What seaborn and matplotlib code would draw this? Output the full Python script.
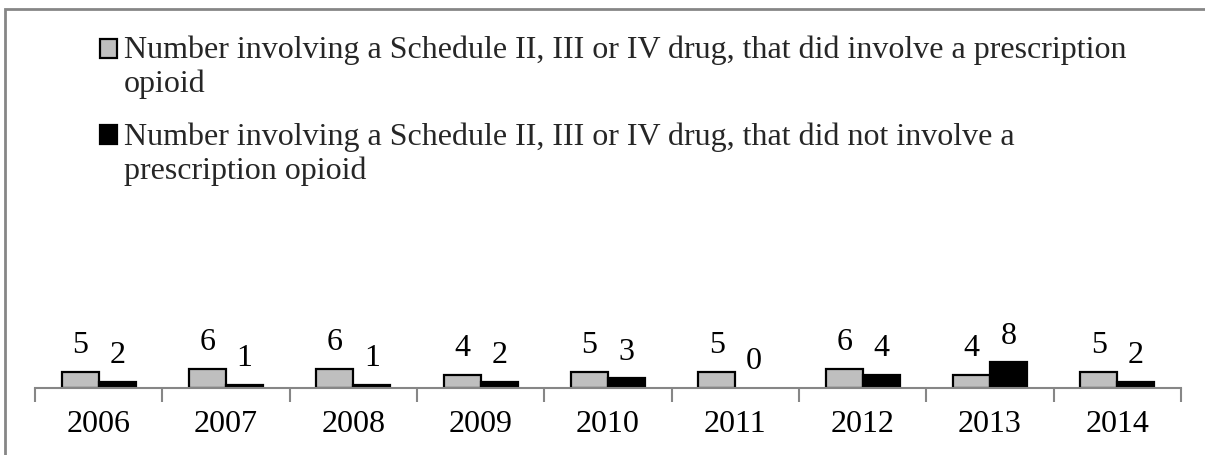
import pandas as pd
import numpy as np
import matplotlib
matplotlib.use("Agg")
import matplotlib.pyplot as plt
import matplotlib.patches as mpatches
from matplotlib.legend_handler import HandlerPatch
import seaborn as sns

years = ["2006", "2007", "2008", "2009", "2010", "2011", "2012", "2013", "2014"]
with_opioid = [5, 6, 6, 4, 5, 5, 6, 4, 5]
without_opioid = [2, 1, 1, 2, 3, 0, 4, 8, 2]
series_names = [
    "Number involving a Schedule II, III or IV drug, that did involve a prescription\nopioid",
    "Number involving a Schedule II, III or IV drug, that did not involve a\nprescription opioid",
]

df = pd.DataFrame({"year": years, series_names[0]: with_opioid, series_names[1]: without_opioid})
long = df.melt(id_vars="year", var_name="series", value_name="count")

sns.set_theme(style="white")
plt.rcParams["font.family"] = ["Liberation Serif", "DejaVu Serif"]

W, H = 1205, 455
fig = plt.figure(figsize=(W / 100, H / 100), dpi=100)
ax = fig.add_axes([35 / W, 1 - 388 / H, (1181 - 35) / W, 192 / H])

sns.barplot(
    data=long,
    x="year",
    y="count",
    hue="series",
    hue_order=series_names,
    palette=["#BFBFBF", "#000000"],
    width=0.58,
    gap=0,
    edgecolor="black",
    linewidth=1.6,
    ax=ax,
)

# value labels above each bar; zero bars get no outline
for cont in ax.containers:
    for bar in cont:
        h = bar.get_height()
        if h == 0:
            bar.set_linewidth(0)
        ax.annotate(
            f"{h:g}",
            (bar.get_x() + bar.get_width() / 2, h),
            xytext=(0, 13.5),
            textcoords="offset points",
            ha="center",
            va="baseline",
            fontsize=23,
            color="black",
        )

ax.set_xlim(-0.5, len(years) - 0.5)
ax.set_ylim(0, 60)
ax.set_xlabel("")
ax.set_ylabel("")
ax.set_yticks([])
for side in ["top", "right", "left"]:
    ax.spines[side].set_visible(False)
ax.spines["bottom"].set_color("#868686")
ax.spines["bottom"].set_linewidth(1.5)
ax.set_xticks(np.arange(-0.5, len(years)), minor=True)
ax.tick_params(axis="x", which="minor", length=10, width=1.5, color="#868686", direction="out", bottom=True)
ax.tick_params(axis="x", which="major", length=0, pad=16, labelsize=23, labelcolor="black")
ax.patch.set_alpha(0)


def square_marker(legend, orig_handle, xdescent, ydescent, width, height, fontsize):
    # nudge the square down so it sits level with the first text line
    return mpatches.Rectangle((-xdescent, -ydescent - 2), width, height)


handles, labels = ax.get_legend_handles_labels()
ax.get_legend().remove()
leg = fig.legend(
    handles,
    labels,
    loc="upper left",
    bbox_to_anchor=(87 / W, 1 - 23 / H),
    frameon=False,
    fontsize=23,
    handlelength=0.55,
    handleheight=0.55,
    handletextpad=0.2,
    labelspacing=0.72,
    borderaxespad=0,
    handler_map={mpatches.Rectangle: HandlerPatch(patch_func=square_marker)},
)
# put the marker next to the first line of each wrapped label
for col in leg._legend_handle_box.get_children():
    for row in col.get_children():
        row.align = "top"

# outer chart frame
fig.patches.append(
    mpatches.Rectangle(
        (5 / W, -0.05), 1.2, 1 - 9 / H + 0.05,
        transform=fig.transFigure, fill=False, edgecolor="#868686", linewidth=2, zorder=0,
    )
)

fig.savefig("out.png", dpi=100)
